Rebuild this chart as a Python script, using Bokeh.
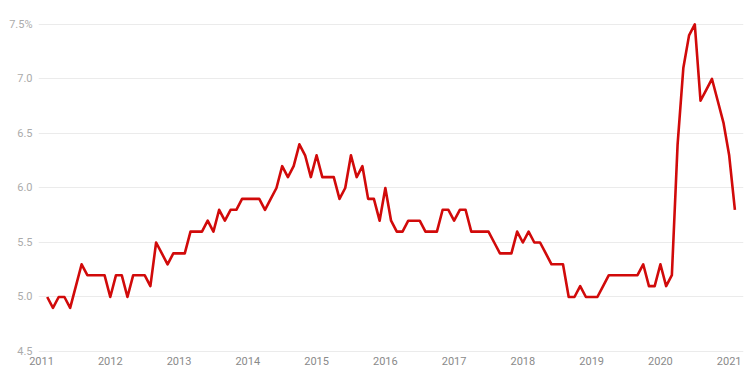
import pandas as pd
from bokeh.plotting import figure
from bokeh.models import Range1d, FixedTicker, CustomJSTickFormatter, ColumnDataSource
from bokeh.embed import file_html
from bokeh.resources import INLINE

# Monthly series, Feb 2011 - Feb 2021 (%)
start_month = "2011-02-01"
rate = [
    5.0, 4.9, 5.0, 5.0, 4.9, 5.1, 5.3, 5.2, 5.2, 5.2, 5.2,            # 2011 Feb-Dec
    5.0, 5.2, 5.2, 5.0, 5.2, 5.2, 5.2, 5.1, 5.5, 5.4, 5.3, 5.4,       # 2012
    5.4, 5.4, 5.6, 5.6, 5.6, 5.7, 5.6, 5.8, 5.7, 5.8, 5.8, 5.9,       # 2013
    5.9, 5.9, 5.9, 5.8, 5.9, 6.0, 6.2, 6.1, 6.2, 6.4, 6.3, 6.1,       # 2014
    6.3, 6.1, 6.1, 6.1, 5.9, 6.0, 6.3, 6.1, 6.2, 5.9, 5.9, 5.7,       # 2015
    6.0, 5.7, 5.6, 5.6, 5.7, 5.7, 5.7, 5.6, 5.6, 5.6, 5.8, 5.8,       # 2016
    5.7, 5.8, 5.8, 5.6, 5.6, 5.6, 5.6, 5.5, 5.4, 5.4, 5.4, 5.6,       # 2017
    5.5, 5.6, 5.5, 5.5, 5.4, 5.3, 5.3, 5.3, 5.0, 5.0, 5.1, 5.0,       # 2018
    5.0, 5.0, 5.1, 5.2, 5.2, 5.2, 5.2, 5.2, 5.2, 5.3, 5.1, 5.1,       # 2019
    5.3, 5.1, 5.2, 6.4, 7.1, 7.4, 7.5, 6.8, 6.9, 7.0, 6.8, 6.6,       # 2020
    6.3, 5.8,                                                           # 2021 Jan-Feb
]
years = [2011, 2012, 2013, 2014, 2015, 2016, 2017, 2018, 2019, 2020, 2021]
year_labels = ["2011", "2012", "2013", "2014", "2015", "2016", "2017", "2018", "2019", "2020", "2021"]
y_ticks = [4.5, 5.0, 5.5, 6.0, 6.5, 7.0, 7.5]
y_labels = ["4.5", "5.0", "5.5", "6.0", "6.5", "7.0", "7.5%"]

dates = pd.date_range(start_month, periods=len(rate), freq="MS")
xdec = [d.year + (d.month - 1) / 12.0 for d in dates]
src = ColumnDataSource(dict(x=xdec, y=rate))

p = figure(output_backend="svg", toolbar_location=None,
           frame_width=705, frame_height=337,
           min_border_left=38, min_border_right=5, min_border_top=16, min_border_bottom=22,
           x_range=Range1d(2011 - 0.524 / 12, 2011 + 122.5 / 12),
           y_range=Range1d(4.4817, 7.573))
p.outline_line_color = None
p.background_fill_color = "white"
p.border_fill_color = "white"

p.line("x", "y", source=src, line_color="#d10a0a", line_width=2.6, line_join="round")

p.xgrid.grid_line_color = None
p.ygrid.grid_line_color = "#ebebeb"
p.ygrid.grid_line_width = 1

fmt_js = """
for (let i = 0; i < vals.length; i++) {
  if (Math.abs(tick - vals[i]) < 1e-6) { return labs[i]; }
}
return "";
"""
p.xaxis.ticker = FixedTicker(ticks=years)
p.xaxis.formatter = CustomJSTickFormatter(args=dict(vals=years, labs=year_labels), code=fmt_js)
p.yaxis.ticker = FixedTicker(ticks=y_ticks)
p.yaxis.formatter = CustomJSTickFormatter(args=dict(vals=y_ticks, labs=y_labels), code=fmt_js)

for ax in (p.xaxis, p.yaxis):
    ax.axis_line_color = None
    ax.major_tick_line_color = None
    ax.minor_tick_line_color = None
    ax.major_tick_out = 0
    ax.major_tick_in = 0
    ax.major_label_text_font = "Roboto"
    ax.major_label_text_font_size = "11px"
p.xaxis.major_label_text_color = "#8a8a8a"
p.yaxis.major_label_text_color = "#ababab"
p.xaxis.major_label_standoff = 3
p.yaxis.major_label_standoff = 6

open("out.html", "w").write(file_html(p, INLINE))
